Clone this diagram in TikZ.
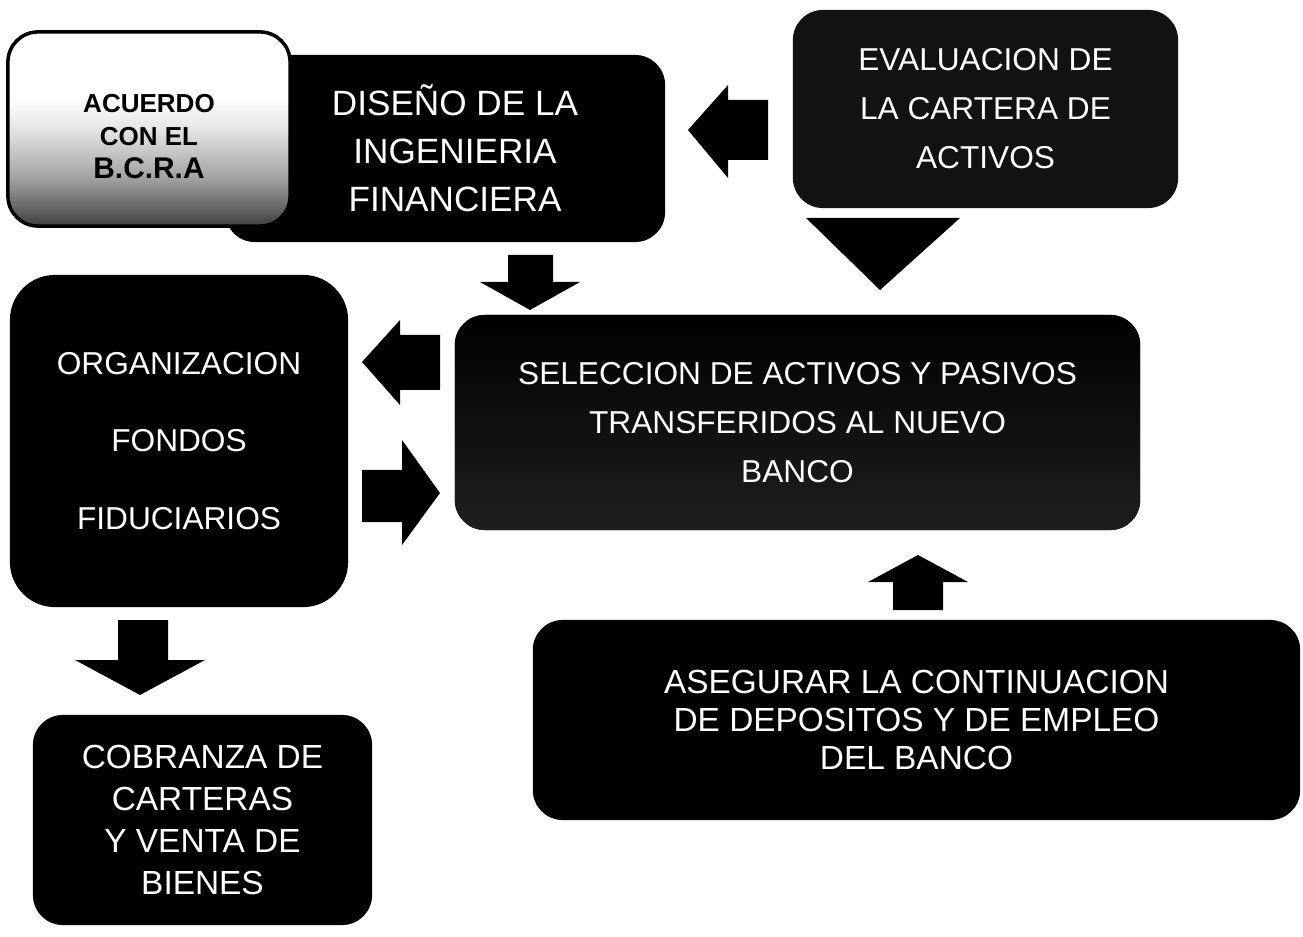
\documentclass[tikz,border=0pt]{standalone}
\usepackage{fontspec}
\setmainfont{Liberation Sans}
\usetikzlibrary{positioning}

\pgfdeclareverticalshading{acuerdosh}{100bp}{color(0bp)=(black!75); color(25bp)=(black!75);
  color(37bp)=(gray!75); color(50bp)=(gray!20); color(58bp)=(white); color(100bp)=(white)}

\tikzset{
  caja/.style={fill=black, rounded corners=0.3cm, text=white, align=center,
    inner sep=0pt, font=\fontsize{9}{12.5}\selectfont},
  flecha/.style={fill=black},
}

\begin{document}
\begin{tikzpicture}[x=0.01cm,y=-0.01cm]
\useasboundingbox (0,0) rectangle (1303,937);

% cajas
\node[caja, minimum width=4.4cm, minimum height=1.87cm, font=\fontsize{10}{12.2}\selectfont] (diseno) at (445,148.5)
  {\hspace*{0.2cm}DISEÑO DE LA\\[0.05cm]\hspace*{0.2cm}INGENIERIA\\[0.05cm]\hspace*{0.2cm}FINANCIERA};
\node[caja, draw=black, line width=1pt, shading=acuerdosh,
  minimum width=2.82cm, minimum height=1.94cm] (acuerdo) at (149,129) {};
\node[align=center, inner sep=0pt, font=\bfseries\fontsize{7.4}{9.4}\selectfont] (acuerdotxt) at (149,137)
  {ACUERDO\\CON EL\\{\fontsize{8.5}{9.4}\selectfont B.C.R.A}};
\node[caja, fill=black!93, minimum width=3.85cm, minimum height=1.98cm] (evalua) at (985.5,109)
  {EVALUACION DE\\[0.05cm]LA CARTERA DE\\[0.05cm]ACTIVOS};
\node[caja, rounded corners=0.45cm, minimum width=3.38cm, minimum height=3.32cm,
  font=\fontsize{9}{22}\selectfont] (org) at (179,441)
  {ORGANIZACION\\FONDOS\\FIDUCIARIOS};
\node[caja, top color=black, bottom color=black!88, minimum width=6.85cm, minimum height=2.15cm] (central) at (797.5,422.5)
  {SELECCION DE ACTIVOS Y PASIVOS\\[0.05cm]TRANSFERIDOS AL NUEVO\\[0.05cm]BANCO};
\node[caja, minimum width=7.67cm, minimum height=2.0cm, font=\fontsize{9.5}{10.8}\selectfont] (asegurar) at (916.5,720)
  {ASEGURAR LA CONTINUACION\\DE DEPOSITOS Y DE EMPLEO\\DEL BANCO};
\node[caja, minimum width=3.39cm, minimum height=2.1cm, font=\fontsize{9.5}{12}\selectfont] (cobranza) at (202.5,820)
  {COBRANZA DE\\CARTERAS\\Y VENTA DE\\BIENES};

% flechas
\fill[flecha] (688,130) -- (728,85) -- (728,100) -- (768,100) -- (768,160) -- (728,160) -- (728,178) -- cycle;
\fill[flecha] (806,218) -- (960,218) -- (880,290) -- cycle;
\fill[flecha] (508,255) -- (553,255) -- (553,282) -- (580,282) -- (530,310) -- (480,282) -- (508,282) -- cycle;
\fill[flecha] (362,362) -- (400,320) -- (400,335) -- (440,335) -- (440,390) -- (400,390) -- (400,405) -- cycle;
\fill[flecha] (440,493) -- (402,440) -- (402,470) -- (362,470) -- (362,522) -- (402,522) -- (402,545) -- cycle;
\fill[flecha] (918,555) -- (968,582) -- (943,582) -- (943,610) -- (893,610) -- (893,582) -- (868,582) -- cycle;
\fill[flecha] (118,620) -- (168,620) -- (168,660) -- (205,660) -- (140,695) -- (75,660) -- (118,660) -- cycle;
\end{tikzpicture}
\end{document}
